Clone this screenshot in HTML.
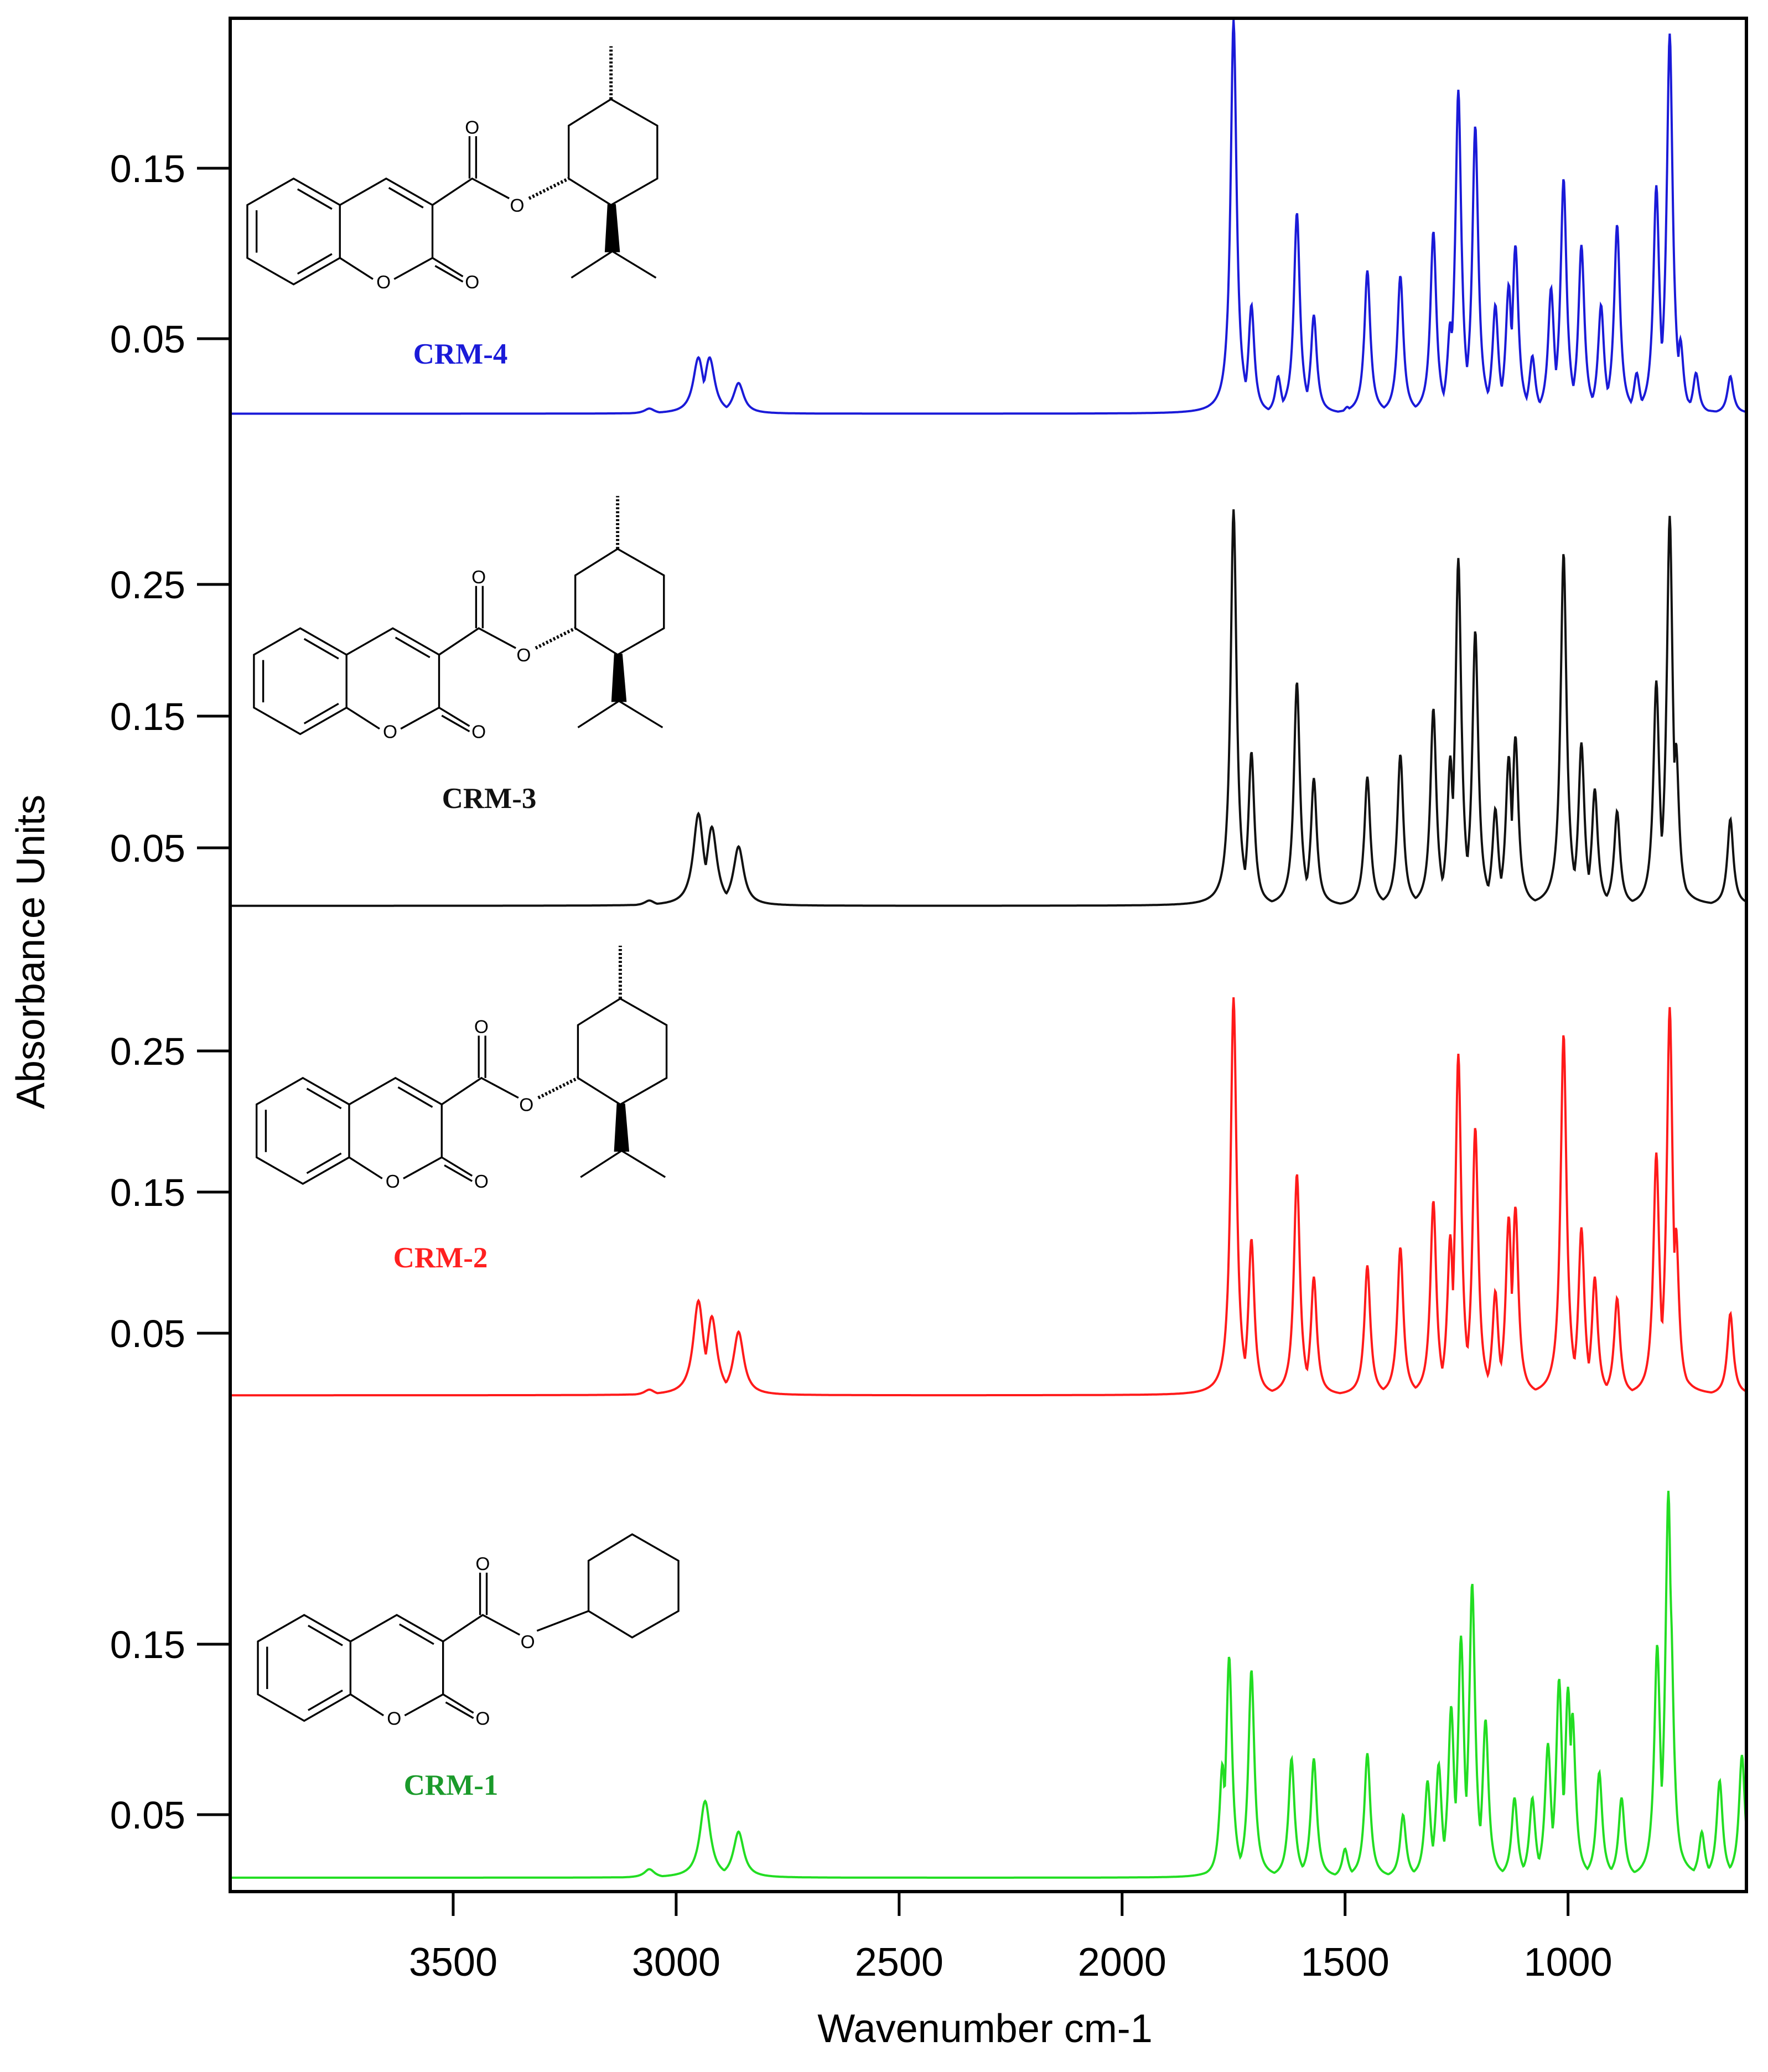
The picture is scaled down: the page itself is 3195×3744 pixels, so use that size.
<!DOCTYPE html>
<html><head><meta charset="utf-8"><style>
html,body{margin:0;padding:0;background:#fff}
svg{display:block}
text{font-family:"Liberation Sans",sans-serif}
.lbl{font-family:"Liberation Serif",serif;font-weight:bold;font-size:53px}
</style></head><body>
<svg id="chart" width="3195" height="3744" viewBox="0 0 3195 3744" xmlns="http://www.w3.org/2000/svg">
<rect x="0" y="0" width="3195" height="3744" fill="#fff"/>
<g id="structs"></g>
<g id="series"></g>
<rect x="416" y="33" width="2740" height="3385" fill="none" stroke="#000" stroke-width="6"/>
<g id="axes"></g>
<text x="80" y="1720" font-size="72" text-anchor="middle" transform="rotate(-90 80 1720)">Absorbance Units</text>
<text x="1780" y="3690" font-size="72" text-anchor="middle">Wavenumber cm-1</text>
<text x="832" y="657" class="lbl" fill="#1a1ad8" text-anchor="middle">CRM-4</text>
<text x="884" y="1460" class="lbl" fill="#111" text-anchor="middle">CRM-3</text>
<text x="796" y="2290" class="lbl" fill="#ff2020" text-anchor="middle">CRM-2</text>
<text x="815" y="3243" class="lbl" fill="#1a9a2a" text-anchor="middle">CRM-1</text>
</svg>
<script>
const xTicks = [3500, 3000, 2500, 2000, 1500, 1000];
const crm4Ticks = [0.15, 0.05];
const crm3Ticks = [0.25, 0.15, 0.05];
const crm2Ticks = [0.25, 0.15, 0.05];
const crm1Ticks = [0.15, 0.05];

const crm4PeakWn = [3060,2950,2925,2860,1750,1710,1650,1608,1570,1495,1450,1376,1302,1264,1246,1208,1163,1133,1118,1080,1038,1010,970,926,890,846,802,772,748,713,636];
const crm4PeakAbs = [0.009,0.039,0.039,0.024,0.237,0.07,0.028,0.124,0.064,0.01,0.09,0.087,0.113,0.06,0.196,0.175,0.07,0.082,0.105,0.04,0.08,0.144,0.105,0.07,0.117,0.03,0.14,0.229,0.05,0.03,0.028];
const crm3PeakWn = [3060,2950,2920,2860,1750,1710,1608,1570,1450,1376,1302,1264,1246,1208,1163,1133,1118,1010,970,940,890,802,772,758,636];
const crm3PeakAbs = [0.01,0.076,0.066,0.051,0.307,0.123,0.176,0.103,0.104,0.121,0.156,0.12,0.27,0.215,0.08,0.12,0.135,0.274,0.13,0.095,0.078,0.177,0.302,0.13,0.072];
const crm2PeakWn = [3060,2950,2920,2860,1750,1710,1608,1570,1450,1376,1302,1264,1246,1208,1163,1133,1118,1010,970,940,890,802,772,758,636];
const crm2PeakAbs = [0.01,0.073,0.062,0.051,0.288,0.117,0.163,0.09,0.098,0.111,0.144,0.12,0.248,0.196,0.08,0.133,0.14,0.262,0.125,0.09,0.075,0.178,0.281,0.125,0.064];
const crm1PeakWn = [3060,2935,2860,1775,1760,1710,1620,1570,1500,1450,1370,1315,1290,1262,1240,1215,1185,1120,1080,1045,1020,1000,990,930,880,800,775,770,700,660,610];
const crm1PeakAbs = [0.018,0.058,0.04,0.08,0.143,0.135,0.083,0.083,0.03,0.086,0.05,0.07,0.08,0.114,0.155,0.186,0.106,0.06,0.06,0.092,0.13,0.125,0.11,0.075,0.06,0.15,0.24,0.173,0.04,0.07,0.085];

const NS='http://www.w3.org/2000/svg';
function xs(wn){return 416+(4000-wn)*(2740/3400);}
function mkY(y05,per01){return v=>y05-(v-0.05)*per01*10;}
const panels=[
 {name:'crm-4',wn:crm4PeakWn,ab:crm4PeakAbs,base:0.006,color:'#1a1ad8',y:mkY(612,308),ticks:crm4Ticks},
 {name:'crm-3',wn:crm3PeakWn,ab:crm3PeakAbs,base:0.006,color:'#111111',y:mkY(1532,238),ticks:crm3Ticks},
 {name:'crm-2',wn:crm2PeakWn,ab:crm2PeakAbs,base:0.006,color:'#ff1a1a',y:mkY(2409,255),ticks:crm2Ticks},
 {name:'crm-1',wn:crm1PeakWn,ab:crm1PeakAbs,base:0.013,color:'#22dd22',y:mkY(3279,308),ticks:crm1Ticks}
];
const sg=document.getElementById('series'), ag=document.getElementById('axes');
panels.forEach(p=>{
  let pts=[];
  for(let w=4000;w>=600;w-=1.5){
    let m=0;
    for(let i=0;i<p.wn.length;i++){
      const g=(p.wn[i]>2500)?14:8;
      const d=(w-p.wn[i])/g;
      const v=(p.ab[i]-p.base)/(1+d*d);
      if(v>m)m=v;
    }
    pts.push(xs(w).toFixed(1)+','+p.y(p.base+m).toFixed(1));
  }
  const pl=document.createElementNS(NS,'polyline');
  pl.setAttribute('points',pts.join(' '));
  pl.setAttribute('fill','none');pl.setAttribute('stroke',p.color);pl.setAttribute('stroke-width','4');
  
  
  sg.appendChild(pl);
  p.ticks.forEach(t=>{
    const yy=p.y(t);
    const l=document.createElementNS(NS,'line');
    l.setAttribute('x1',356);l.setAttribute('x2',416);l.setAttribute('y1',yy);l.setAttribute('y2',yy);
    l.setAttribute('stroke','#000');l.setAttribute('stroke-width','5');
    
    
    ag.appendChild(l);
    const tx=document.createElementNS(NS,'text');
    tx.setAttribute('x',335);tx.setAttribute('y',yy+25);tx.setAttribute('font-size','70');tx.setAttribute('text-anchor','end');
    tx.textContent=t.toFixed(2);
    
    
    ag.appendChild(tx);
  });
});
xTicks.forEach(t=>{
  const xx=xs(t);
  const l=document.createElementNS(NS,'line');
  l.setAttribute('x1',xx);l.setAttribute('x2',xx);l.setAttribute('y1',3418);l.setAttribute('y2',3462);
  l.setAttribute('stroke','#000');l.setAttribute('stroke-width','5');
  
  
  ag.appendChild(l);
  const tx=document.createElementNS(NS,'text');
  tx.setAttribute('x',xx);tx.setAttribute('y',3570);tx.setAttribute('font-size','72');tx.setAttribute('text-anchor','middle');
  tx.textContent=t;
  
  
  ag.appendChild(tx);
});
const structs=document.getElementById('structs');
const offs=[[0,0,'structure-crm-4'],[5,340,'structure-crm-3'],[7,680,'structure-crm-2'],[8,1086,'structure-crm-1']];
offs.forEach((o,k)=>{
  const g=document.createElementNS(NS,'g');
  g.setAttribute('transform','translate('+(o[0]*2.39)+','+(o[1]*2.39)+') scale(2.39)');
  g.setAttribute('stroke','#000');g.setAttribute('fill','none');g.setAttribute('stroke-width','1.4');
  
  
  let s='<polygon points="222,135 257,155 257,195 222,215 187,195 187,155"/>'+
    '<line x1="194" y1="159" x2="194" y2="191"/><line x1="225" y1="143" x2="251" y2="158"/><line x1="225" y1="207" x2="251" y2="192"/>'+
    '<polyline points="257,155 292,135 327,155 327,195 298,211"/><line x1="282" y1="211" x2="257" y2="195"/>'+
    '<line x1="294" y1="142" x2="320" y2="157"/>'+
    '<line x1="327" y1="195" x2="350" y2="209"/><line x1="329" y1="201" x2="350" y2="213"/>'+
    '<polyline points="327,155 357,135 385,150"/><line x1="355" y1="135" x2="355" y2="103"/><line x1="360" y1="135" x2="360" y2="103"/>'+
    '<text x="290" y="218" font-size="14" fill="#000" stroke="none" text-anchor="middle">O</text>'+
    '<text x="357" y="218" font-size="14" fill="#000" stroke="none" text-anchor="middle">O</text>'+
    '<text x="357" y="101" font-size="14" fill="#000" stroke="none" text-anchor="middle">O</text>'+
    '<text x="391" y="160" font-size="14" fill="#000" stroke="none" text-anchor="middle">O</text>';
  if(k<3){
    s+='<polygon points="430,95 462,75 497,95 497,135 462,155 430,135"/>'+
       '<line x1="400" y1="150" x2="430" y2="135" stroke-dasharray="1.5,1.5" stroke-width="2.5"/><line x1="462" y1="75" x2="462" y2="35" stroke-dasharray="1.5,1.5" stroke-width="2.5"/>'+
       '<polygon points="460,155 465,155 468,190 458,190" fill="#000"/>'+
       '<polyline points="432,210 463,190 496,210"/>';
  } else {
    s+='<polygon points="437,94 470,74 505,94 505,132 470,152 437,132"/><line x1="398" y1="147" x2="437" y2="132"/>';
  }
  g.innerHTML=s;
  structs.appendChild(g);
});
</script>
</body></html>
